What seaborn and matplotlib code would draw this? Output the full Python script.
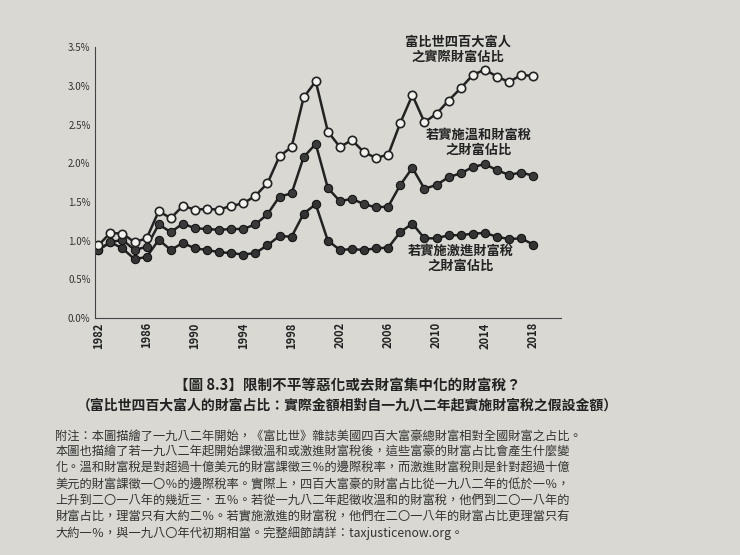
import matplotlib
matplotlib.use("Agg")
import matplotlib.pyplot as plt
import seaborn as sns
import pandas as pd

years = list(range(1982, 2019))
actual = [0.94,1.10,1.09,0.98,1.03,1.38,1.29,1.45,1.40,1.41,1.40,1.45,1.48,1.58,1.74,2.09,2.21,2.85,3.06,2.41,2.21,2.30,2.14,2.07,2.11,2.52,2.88,2.53,2.64,2.81,2.97,3.14,3.21,3.12,3.05,3.14,3.13]
moderate = [0.88,0.98,1.01,0.88,0.92,1.21,1.11,1.22,1.16,1.15,1.14,1.15,1.15,1.21,1.34,1.57,1.61,2.08,2.25,1.68,1.51,1.54,1.47,1.43,1.44,1.72,1.94,1.67,1.72,1.82,1.87,1.95,1.99,1.91,1.85,1.88,1.84]
aggressive = [0.88,0.98,0.90,0.76,0.79,1.01,0.88,0.97,0.90,0.88,0.85,0.84,0.82,0.84,0.94,1.06,1.05,1.35,1.47,1.00,0.88,0.89,0.88,0.90,0.91,1.11,1.22,1.03,1.03,1.07,1.07,1.09,1.10,1.05,1.02,1.03,0.95]
yticks = [0.0,0.5,1.0,1.5,2.0,2.5,3.0,3.5]
xticks = list(range(1982, 2019, 4))

sns.set_theme(style="white")
plt.rcParams['font.family'] = ['Noto Sans CJK TC', 'DejaVu Sans']
bg = "#d9d8d3"
fig = plt.figure(figsize=(7.4, 5.55), dpi=100, facecolor=bg)
ax = fig.add_axes([0.128, 0.427, 0.63, 0.488], facecolor=bg)

df = pd.DataFrame({"year": years, "actual": actual, "moderate": moderate, "aggressive": aggressive})
sns.lineplot(data=df, x="year", y="aggressive", ax=ax, color="#222222", lw=1.8,
             marker="o", markersize=6, markerfacecolor="#333333", markeredgecolor="#111111")
sns.lineplot(data=df, x="year", y="moderate", ax=ax, color="#222222", lw=1.8,
             marker="o", markersize=6, markerfacecolor="#3a3a3a", markeredgecolor="#111111")
sns.lineplot(data=df, x="year", y="actual", ax=ax, color="#222222", lw=1.8,
             marker="o", markersize=6, markerfacecolor="#f2f2ee", markeredgecolor="#222222", markeredgewidth=1.2)

ax.set_xlim(1981.7, 2020.3)
ax.set_ylim(0, 3.5)
ax.set_yticks(yticks)
ax.set_yticklabels([f"{v:.1f}%" for v in yticks], fontsize=7, color="#333333")
ax.set_xticks(xticks)
ax.set_xticklabels([str(x) for x in xticks], rotation=90, fontsize=8, fontweight="bold", color="#222222")
ax.set_xlabel(""); ax.set_ylabel("")
for s in ["top", "right"]:
    ax.spines[s].set_visible(False)
for s in ["left", "bottom"]:
    ax.spines[s].set_color("#444444"); ax.spines[s].set_linewidth(0.8)
ax.tick_params(axis="both", length=0, pad=3)

ax.text(2011.8, 3.28, "富比世四百大富人\n之實際財富佔比", ha="center", va="bottom", fontsize=9.5, fontweight="bold", color="#222222", linespacing=1.15)
ax.text(2013.5, 2.08, "若實施溫和財富稅\n之財富佔比", ha="center", va="bottom", fontsize=9.5, fontweight="bold", color="#222222", linespacing=1.15)
ax.text(2012.0, 0.58, "若實施激進財富稅\n之財富佔比", ha="center", va="bottom", fontsize=9.5, fontweight="bold", color="#222222", linespacing=1.15)

fig.text(0.47, 0.298, "【圖 8.3】限制不平等惡化或去財富集中化的財富稅？", ha="center", fontsize=10.5, fontweight="bold", color="#222222")
fig.text(0.47, 0.262, "（富比世四百大富人的財富占比：實際金額相對自一九八二年起實施財富稅之假設金額）", ha="center", fontsize=10, fontweight="bold", color="#222222")
note = ("附注：本圖描繪了一九八二年開始，《富比世》雜誌美國四百大富豪總財富相對全國財富之占比。\n"
        "本圖也描繪了若一九八二年起開始課徵溫和或激進財富稅後，這些富豪的財富占比會產生什麼變\n"
        "化。溫和財富稅是對超過十億美元的財富課徵三％的邊際稅率，而激進財富稅則是針對超過十億\n"
        "美元的財富課徵一〇％的邊際稅率。實際上，四百大富豪的財富占比從一九八二年的低於一％，\n"
        "上升到二〇一八年的幾近三．五％。若從一九八二年起徵收溫和的財富稅，他們到二〇一八年的\n"
        "財富占比，理當只有大約二％。若實施激進的財富稅，他們在二〇一八年的財富占比更理當只有\n"
        "大約一％，與一九八〇年代初期相當。完整細節請詳：taxjusticenow.org。")
fig.text(0.075, 0.225, note, ha="left", va="top", fontsize=8.8, color="#333333", linespacing=1.3)

fig.savefig("out.png", dpi=100, facecolor=bg)
